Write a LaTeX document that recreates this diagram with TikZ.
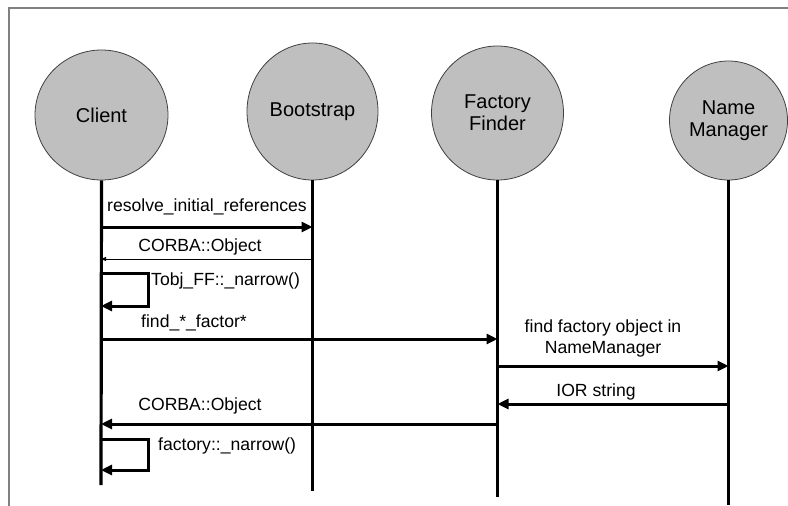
\documentclass[tikz,border=0pt]{standalone}
\usepackage{fontspec}
\setmainfont{Liberation Sans}
\usetikzlibrary{shapes.geometric,arrows.meta}
\begin{document}
\begin{tikzpicture}[x=1pt,y=-1pt,
  actor/.style={ellipse,draw=black!75,line width=0.8pt,fill=gray!50,inner sep=0pt,align=center,font=\fontsize{20}{22}\selectfont},
  life/.style={line width=3.2pt},
  msg/.style={line width=3pt,-{Triangle[length=11pt,width=10pt]}},
  thinmsg/.style={line width=0.9pt,-{Triangle[length=5pt,width=4pt]}},
  lbl/.style={inner sep=0pt,align=center,font=\fontsize{17.6}{21}\selectfont}]
\useasboundingbox (0,0) rectangle (788,506);
\draw[gray,line width=1.5pt] (9,506) -- (9,8) -- (788,8);
% actors
\node[actor,minimum width=133pt,minimum height=130pt] (client) at (101.5,115) {Client};
\node[actor,minimum width=131pt,minimum height=137pt] (boot) at (312.5,111.5) {Bootstrap};
\node[actor,minimum width=132pt,minimum height=134pt] (ff) at (497.5,113) {Factory\\Finder};
\node[actor,minimum width=118pt,minimum height=119pt] (nm) at (728.5,120.5) {Name\\Manager};
% lifeline ends
\coordinate (clientend) at (101,485);
\coordinate (bootend) at (312.5,491);
\coordinate (ffend) at (497.5,497);
\coordinate (nmend) at (728.5,505);
\draw[life] (client.south) -- (clientend);
\draw[life] (boot.south) -- (bootend);
\draw[life] (ff.south) -- (ffend);
\draw[life] (nm.south) -- (nmend);
% message points
\coordinate (c1) at (101,227);   \coordinate (b1) at (312.5,227);
\coordinate (c2) at (101,259);   \coordinate (b2) at (312.5,259);
\coordinate (c3a) at (101,273);  \coordinate (c3b) at (101,306);
\coordinate (c4) at (101,339);   \coordinate (f4) at (497.5,339);
\coordinate (f5) at (497.5,366); \coordinate (n5) at (728.5,366);
\coordinate (f6) at (497.5,404); \coordinate (n6) at (728.5,404);
\coordinate (c7) at (101,424);   \coordinate (f7) at (497.5,424);
\coordinate (c8a) at (101,439);  \coordinate (c8b) at (101,470);
% messages
\draw[msg] (c1) -- (b1);
\draw[thinmsg] (b2) -- (c2);
\draw[msg] (c3a) -| (148,306) -- (c3b);
\draw[msg] (c4) -- (f4);
\draw[msg] (f5) -- (n5);
\draw[msg] (n6) -- (f6);
\draw[msg] (f7) -- (c7);
\draw[msg] (c8a) -| (148,470) -- (c8b);
% labels
\node[lbl] (l1) at (207,207) {resolve\_initial\_references};
\node[lbl] (l2) at (200,247) {CORBA::Object};
\node[lbl,anchor=west] (l3) at (151,281) {Tobj\_FF::\_narrow()};
\node[lbl] (l4) at (194,323) {find\_*\_factor*};
\node[lbl] (l5) at (603,338) {find factory object in\\NameManager};
\node[lbl] (l6) at (596,392) {IOR string};
\node[lbl] (l7) at (200,406) {CORBA::Object};
\node[lbl,anchor=west] (l8) at (158,446) {factory::\_narrow()};
\end{tikzpicture}
\end{document}
